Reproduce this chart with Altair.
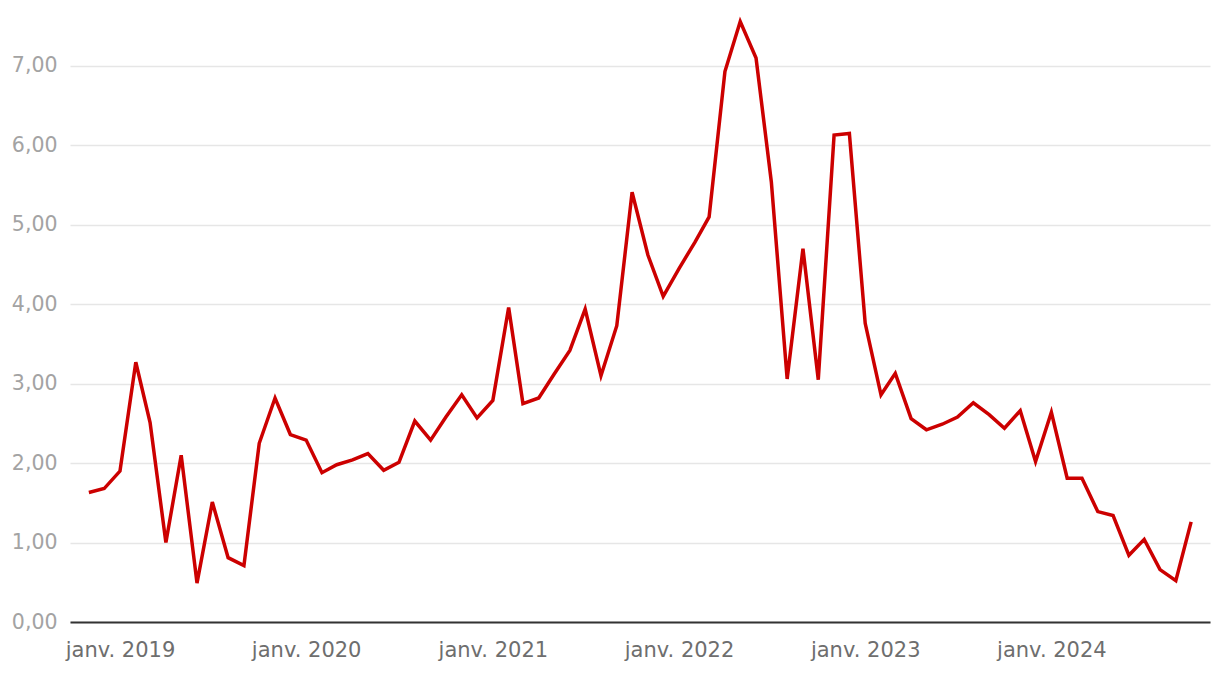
import altair as alt
import pandas as pd

start_year, start_month = 2018, 11
values = [
    1.63, 1.68, 1.90, 3.27, 2.51, 1.00, 2.10, 0.49, 1.51, 0.81, 0.71, 2.25,
    2.82, 2.36, 2.29, 1.88, 1.98, 2.04, 2.12, 1.91, 2.01, 2.53, 2.29, 2.58,
    2.86, 2.57, 2.79, 3.96, 2.75, 2.82, 3.12, 3.42, 3.94, 3.10, 3.73, 5.41,
    4.62, 4.10, 4.45, 4.78, 5.10, 6.93, 7.56, 7.10, 5.54, 3.06, 4.70, 3.05,
    6.13, 6.15, 3.76, 2.86, 3.13, 2.56, 2.42, 2.49, 2.58, 2.76, 2.61, 2.44,
    2.66, 2.02, 2.64, 1.81, 1.81, 1.39, 1.34, 0.84, 1.04, 0.66, 0.52, 1.26,
]
y_ticks = [0, 1, 2, 3, 4, 5, 6, 7]
x_tick_years = [2019, 2020, 2021, 2022, 2023, 2024]

dates = []
y, m = start_year, start_month
for _ in values:
    dates.append(f"{y:04d}-{m:02d}-01")
    m += 1
    if m > 12:
        m = 1
        y += 1

df = pd.DataFrame({"date": dates, "value": values})

font = "DejaVu Sans"

chart = (
    alt.Chart(df)
    .mark_line(color="#cc0000", strokeWidth=3.5, strokeJoin="miter")
    .encode(
        x=alt.X(
            "date:T",
            scale=alt.Scale(
                type="utc",
                domain=[
                    alt.DateTime(year=2018, month=9, date=25, utc=True),
                    alt.DateTime(year=2024, month=11, date=7, utc=True),
                ],
                nice=False,
            ),
            axis=alt.Axis(
                title=None,
                values=[alt.DateTime(year=yy, month=1, date=1, utc=True) for yy in x_tick_years],
                labelExpr="'janv. ' + utcFormat(datum.value, '%Y')",
                grid=False,
                ticks=False,
                tickSize=0,
                domain=True,
                domainColor="#333333",
                domainWidth=2,
                labelColor="#6e6e6e",
                labelFont=font,
                labelFontSize=21,
                labelPadding=17,
                labelAlign="center",
            ),
        ),
        y=alt.Y(
            "value:Q",
            scale=alt.Scale(domain=[0, 7.705], nice=False, zero=True),
            axis=alt.Axis(
                title=None,
                values=y_ticks,
                labelExpr="replace(format(datum.value, '.2f'), '.', ',')",
                grid=True,
                gridColor="#e6e6e6",
                gridWidth=1.5,
                ticks=False,
                tickSize=0,
                domain=False,
                labelColor="#a3a3a3",
                labelFont=font,
                labelFontSize=20.5,
                labelPadding=13,
                labelBaseline="middle",
            ),
        ),
    )
    .properties(
        width=1140,
        height=612,
        background="white",
        autosize=alt.AutoSizeParams(type="none"),
        padding={"left": 62, "top": 2, "right": 2, "bottom": 44},
    )
    .configure_view(stroke="transparent", strokeWidth=0)
)

chart.save("out.html", embed_options={"renderer": "svg", "actions": False})
